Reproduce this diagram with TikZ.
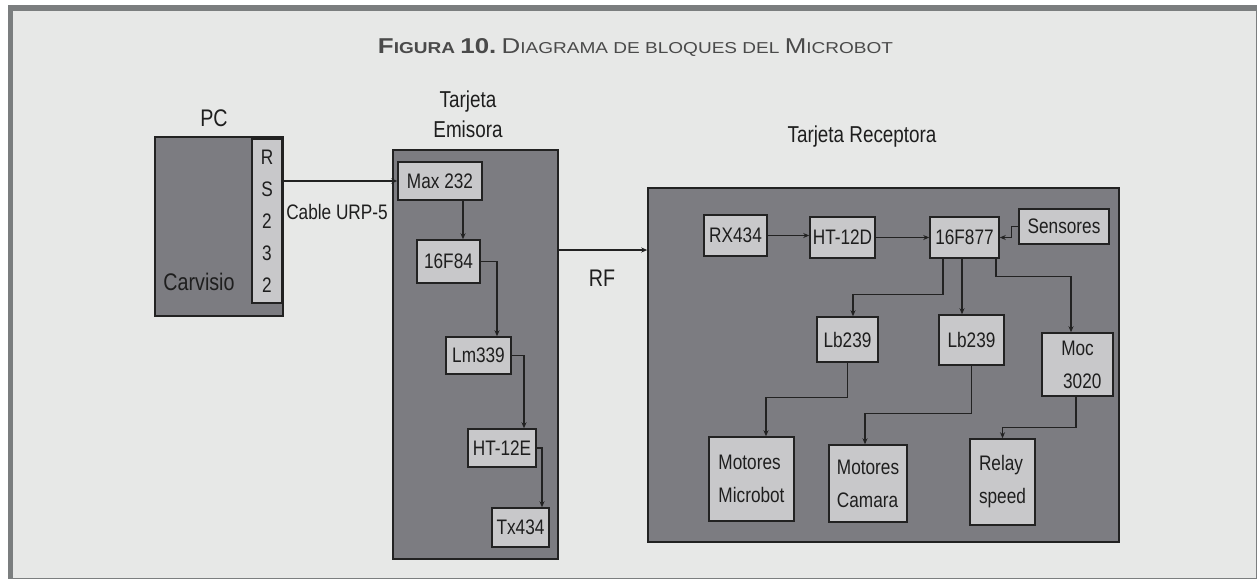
\documentclass[tikz,border=0pt]{standalone}
\usepackage{fontspec}
\usepackage{graphicx}
\usetikzlibrary{arrows.meta,calc}
\newfontfamily\dfont[FakeStretch=0.82]{Liberation Sans}
\newfontfamily\tfont{Liberation Sans}
\definecolor{framegray}{HTML}{7B7E7F}
\definecolor{bgcol}{HTML}{E7E8E7}
\definecolor{bigfill}{HTML}{7C7C81}
\definecolor{boxfill}{HTML}{C8C8CA}
\definecolor{linec}{HTML}{222222}
\definecolor{txtc}{HTML}{1E1E1E}
\definecolor{titlec}{HTML}{4A4A4A}
\newcommand\bigc[1]{{\fontsize{17}{20}\selectfont #1}}
\begin{document}
\begin{tikzpicture}[x=1pt,y=-1pt,
  bigbox/.style={draw=linec,line width=1.6pt,fill=bigfill,inner sep=0pt},
  sbox/.style={draw=linec,line width=1.5pt,fill=boxfill,inner sep=0pt,text=txtc,
    font=\dfont\fontsize{21}{33}\selectfont},
  lbl/.style={text=txtc,inner sep=0pt,font=\dfont\fontsize{23}{30}\selectfont},
  conn/.style={draw=linec,line width=1.3pt,-{Stealth[length=6pt,width=5pt]}}]
\useasboundingbox (0,0) rectangle (1257,579);
\fill[white] (0,0) rectangle (1257,579);
\fill[framegray] (8,5) rectangle (1257,579);
\fill[bgcol] (13,11) rectangle (1256,577.5);

\node[inner sep=0pt,text=titlec,font=\tfont\fontsize{12.5}{15}\selectfont] (title) at (635.5,47)
  {\resizebox{515pt}{15pt}{\textbf{\bigc{F}IGURA \bigc{10.}}\ \bigc{D}IAGRAMA DE BLOQUES DEL \bigc{M}ICROBOT}};

% PC
\node[lbl,font=\dfont\fontsize{24}{30}\selectfont] (pclbl) at (214,118) {PC};
\node[bigbox,minimum width=128pt,minimum height=179pt] (pc) at (219,226.5) {};
\node[sbox,minimum width=30pt,minimum height=164pt,font=\dfont\fontsize{21}{32}\selectfont,align=center] (rs) at (267,221) {R\\S\\2\\3\\2};
\node[lbl,font=\dfont\fontsize{24}{30}\selectfont] (carv) at (199,282) {Carvisio};
\node[lbl,font=\dfont\fontsize{21}{25}\selectfont] (cable) at (337,212) {Cable URP-5};

% Emisora
\node[lbl,align=center] (emlbl) at (468,114) {Tarjeta\\Emisora};
\node[bigbox,minimum width=165pt,minimum height=409pt] (em) at (475.5,354.5) {};
\node[sbox,minimum width=84pt,minimum height=38pt] (max) at (440,181) {Max 232};
\node[sbox,minimum width=63pt,minimum height=43pt] (f84) at (448.5,261.5) {16F84};
\node[sbox,minimum width=65pt,minimum height=37pt] (lm) at (478.5,355.5) {Lm339};
\node[sbox,minimum width=68pt,minimum height=38pt] (hte) at (502,448) {HT-12E};
\node[sbox,minimum width=57pt,minimum height=39pt] (tx) at (520.5,527.5) {Tx434};

% Receptora
\node[lbl] (reclbl) at (862,137) {Tarjeta Receptora};
\node[bigbox,minimum width=471pt,minimum height=354pt] (rec) at (883.5,365) {};
\node[lbl,font=\dfont\fontsize{24}{30}\selectfont] (rf) at (602,278) {RF};
\node[sbox,minimum width=63pt,minimum height=41pt] (rx) at (735.5,235.5) {RX434};
\node[sbox,minimum width=65pt,minimum height=41pt] (htd) at (842.5,237.5) {HT-12D};
\node[sbox,minimum width=69pt,minimum height=41pt] (pic) at (964.5,237.5) {16F877};
\node[sbox,minimum width=90pt,minimum height=35pt] (sens) at (1064,226.5) {Sensores};
\node[sbox,minimum width=61pt,minimum height=45pt] (lba) at (847.5,339.5) {Lb239};
\node[sbox,minimum width=65pt,minimum height=50pt] (lbb) at (971.5,340) {Lb239};
\node[sbox,minimum width=71pt,minimum height=63pt,align=center] (moc) at (1077.5,364.5) {Moc\\\ \ 3020};
\node[sbox,minimum width=85pt,minimum height=84pt,align=left] (mm) at (751.5,479) {Motores\\Microbot};
\node[sbox,minimum width=78pt,minimum height=77pt,align=left] (mc) at (868,483.5) {Motores\\Camara};
\node[sbox,minimum width=65pt,minimum height=86pt,align=left] (rel) at (1002.5,482) {Relay\\speed};

% connectors
\draw[conn] (rs.east |- max.west) -- (max.west);
\draw[conn] ([xshift=23pt]max.south) -- ([xshift=23pt]max.south |- f84.north);
\draw[conn] (f84.east) -| ([xshift=18.5pt]lm.north);
\draw[conn] (lm.east) -| ([xshift=22pt]hte.north);
\draw[conn] (hte.east) -| ([xshift=21.5pt]tx.north);
\draw[conn] ([yshift=104.5pt]em.east) coordinate (rfs) -- (rfs -| rec.west);
\draw[conn] (rx.east) -- (htd.west |- rx.east);
\draw[conn] (htd.east) -- (pic.west);
\draw[conn] (sens.west) -- ++(-7,0) |- (pic.east);
\draw[conn] ([xshift=-21.5pt]pic.south) -- ++(0,36) -| ([xshift=5.5pt]lba.north);
\draw[conn] ([xshift=-2.5pt]pic.south) -- ([xshift=-2.5pt]pic.south |- lbb.north);
\draw[conn] ([xshift=31.5pt]pic.south) -- ++(0,18) -| ([xshift=-6.5pt]moc.north);
\draw[conn] (lba.south) -- ++(0,35) -| ([xshift=14.5pt]mm.north);
\draw[conn] (lbb.south) -- ++(0,48) -| ([xshift=-3pt]mc.north);
\draw[conn] ([xshift=-1.5pt]moc.south) -- ++(0,31) -| (rel.north);
\end{tikzpicture}
\end{document}
